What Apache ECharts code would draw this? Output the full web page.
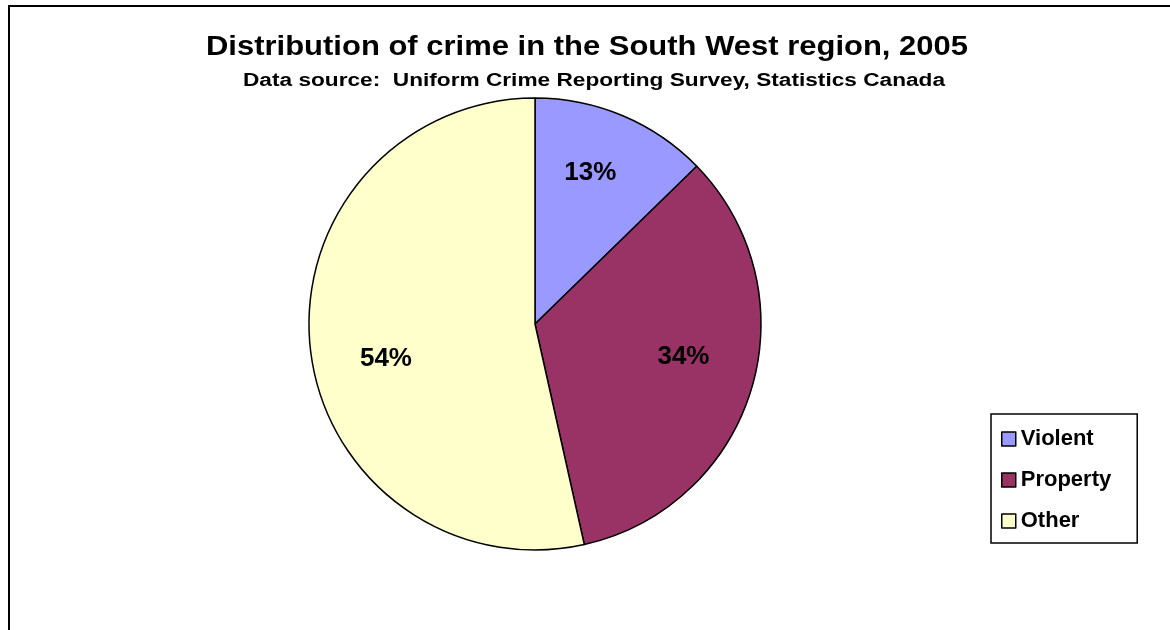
<!DOCTYPE html>
<html>
<head>
<meta charset="utf-8">
<script src="https://cdn.jsdelivr.net/npm/echarts@6/dist/echarts.min.js"></script>
<style>
html,body{margin:0;padding:0;background:#fff;}
#chart{width:1170px;height:630px;}
</style>
</head>
<body>
<div id="chart"></div>
<script>
const titleText = 'Distribution of crime in the South West region, 2005';
const subtitleText = 'Data source:  Uniform Crime Reporting Survey, Statistics Canada';
const categories = ['Violent', 'Property', 'Other'];
const values = [12.7, 33.8, 53.5];   // percent of total

const sliceColors = ['#9999FF', '#993366', '#FFFFCC'];
const FONT = '"Liberation Sans", Arial, sans-serif';

// The original's text is rendered wide; stretch title texts horizontally to the same extent
const mctx = document.createElement('canvas').getContext('2d');
function stretch(text, size, targetW) {
  mctx.font = 'bold ' + size + 'px ' + FONT;
  return targetW / mctx.measureText(text).width;
}
const TITLE_SIZE = 28, SUB_SIZE = 18;
const titleScale = stretch(titleText, TITLE_SIZE, 762);
const subScale = stretch(subtitleText, SUB_SIZE, 702);

const pieData = categories.map((c, i) => ({
  name: c, value: values[i], itemStyle: { color: sliceColors[i] }
}));
const labelNudge = [[-6, -6], [-3, -12], [8, 17]];
const labelData = categories.map((c, i) => ({
  name: c, value: values[i], label: { offset: labelNudge[i] }
}));

const chart = echarts.init(document.getElementById('chart'), null, { renderer: 'canvas' });
chart.setOption({
  animation: false,
  backgroundColor: '#fff',
  graphic: [
    {
      type: 'rect', silent: true, z: 100,
      shape: { x: 9, y: 6, width: 1400, height: 800 },
      style: { fill: 'none', stroke: '#000', lineWidth: 2 }
    },
    {
      type: 'text', silent: true, z: 100,
      x: 587, y: 47, scaleX: titleScale, scaleY: 1,
      style: {
        text: titleText, fill: '#000',
        font: 'bold ' + TITLE_SIZE + 'px ' + FONT,
        textAlign: 'center', textVerticalAlign: 'middle'
      }
    },
    {
      type: 'text', silent: true, z: 100,
      x: 594, y: 81, scaleX: subScale, scaleY: 1,
      style: {
        text: subtitleText, fill: '#000',
        font: 'bold ' + SUB_SIZE + 'px ' + FONT,
        textAlign: 'center', textVerticalAlign: 'middle'
      }
    }
  ],
  legend: {
    orient: 'vertical',
    left: 991, top: 414,
    padding: [14, 26, 11, 10],
    borderColor: '#000', borderWidth: 1.5,
    itemWidth: 14, itemHeight: 14, itemGap: 19,
    icon: 'rect',
    selectedMode: false,
    itemStyle: { borderColor: '#000', borderWidth: 1.5 },
    textStyle: { fontFamily: FONT, fontWeight: 'bold', fontSize: 22, lineHeight: 22, color: '#000' },
    data: categories
  },
  series: [
    {
      type: 'pie',
      center: [535, 324],
      radius: [0, 226],
      startAngle: 90,
      clockwise: true,
      silent: true,
      label: { show: false },
      labelLine: { show: false },
      emphasis: { disabled: true },
      itemStyle: { borderColor: '#000', borderWidth: 1.5 },
      data: pieData
    },
    {
      type: 'pie',
      center: [535, 324],
      radius: [84, 226],
      startAngle: 90,
      clockwise: true,
      silent: true,
      z: 5,
      emphasis: { disabled: true },
      itemStyle: { color: 'rgba(0,0,0,0)', borderWidth: 0 },
      label: {
        show: true, position: 'inside',
        formatter: p => Math.round(p.value) + '%',
        fontFamily: FONT, fontWeight: 'bold', fontSize: 26, color: '#000'
      },
      labelLine: { show: false },
      data: labelData
    }
  ]
});
</script>
</body>
</html>
